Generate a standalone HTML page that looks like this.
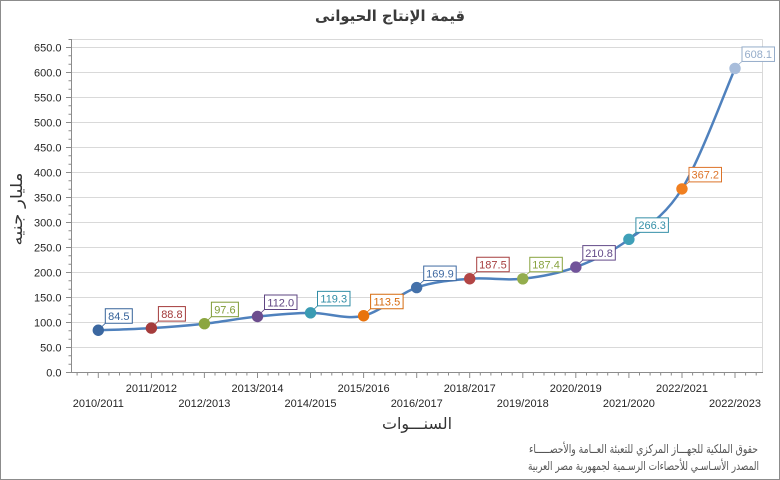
<!DOCTYPE html>
<html><head><meta charset="utf-8"><style>
html,body{margin:0;padding:0;background:#fff;}
svg{display:block;}
.t{font-family:"Liberation Sans","DejaVu Sans",sans-serif;font-size:11px;fill:#262626;}
.ar{font-family:"DejaVu Sans","Liberation Sans",sans-serif;}
</style></head><body>
<svg width="780" height="480" viewBox="0 0 780 480" xmlns="http://www.w3.org/2000/svg">
<rect x="0" y="0" width="780" height="480" fill="#fff"/>
<rect x="0.5" y="0.5" width="779" height="479" fill="none" stroke="#8c8c8c" stroke-width="1"/>

<!-- title -->
<text class="ar" x="390" y="21" text-anchor="middle" font-size="15" font-weight="bold" fill="#3a3a3a" textLength="150" lengthAdjust="spacingAndGlyphs">قيمة الإنتاج الحيوانى</text>

<!-- gridlines -->
<g stroke="#d9d9d9" stroke-width="1">
<line x1="71.5" y1="347.5" x2="762" y2="347.5"/>
<line x1="71.5" y1="322.5" x2="762" y2="322.5"/>
<line x1="71.5" y1="297.5" x2="762" y2="297.5"/>
<line x1="71.5" y1="272.5" x2="762" y2="272.5"/>
<line x1="71.5" y1="247.5" x2="762" y2="247.5"/>
<line x1="71.5" y1="222.5" x2="762" y2="222.5"/>
<line x1="71.5" y1="197.5" x2="762" y2="197.5"/>
<line x1="71.5" y1="172.5" x2="762" y2="172.5"/>
<line x1="71.5" y1="147.5" x2="762" y2="147.5"/>
<line x1="71.5" y1="122.5" x2="762" y2="122.5"/>
<line x1="71.5" y1="97.5" x2="762" y2="97.5"/>
<line x1="71.5" y1="72.5" x2="762" y2="72.5"/>
<line x1="71.5" y1="47.5" x2="762" y2="47.5"/>
<line x1="71.5" y1="39.5" x2="762.5" y2="39.5"/>
<line x1="762.5" y1="39.5" x2="762.5" y2="372.5"/>
</g>

<!-- axes -->
<g stroke="#8c8c8c" stroke-width="1">
<line x1="71.5" y1="39" x2="71.5" y2="373"/>
<line x1="71" y1="372.5" x2="763" y2="372.5"/>
<line x1="66" y1="372.5" x2="71.5" y2="372.5"/>
<line x1="66" y1="347.5" x2="71.5" y2="347.5"/>
<line x1="66" y1="322.5" x2="71.5" y2="322.5"/>
<line x1="66" y1="297.5" x2="71.5" y2="297.5"/>
<line x1="66" y1="272.5" x2="71.5" y2="272.5"/>
<line x1="66" y1="247.5" x2="71.5" y2="247.5"/>
<line x1="66" y1="222.5" x2="71.5" y2="222.5"/>
<line x1="66" y1="197.5" x2="71.5" y2="197.5"/>
<line x1="66" y1="172.5" x2="71.5" y2="172.5"/>
<line x1="66" y1="147.5" x2="71.5" y2="147.5"/>
<line x1="66" y1="122.5" x2="71.5" y2="122.5"/>
<line x1="66" y1="97.5" x2="71.5" y2="97.5"/>
<line x1="66" y1="72.5" x2="71.5" y2="72.5"/>
<line x1="66" y1="47.5" x2="71.5" y2="47.5"/>
</g>
<path stroke="#8c8c8c" stroke-width="1" fill="none" d="
M68.5 364.2H71.5 M68.5 355.8H71.5 M68.5 339.2H71.5 M68.5 330.8H71.5
M68.5 314.2H71.5 M68.5 305.8H71.5 M68.5 289.2H71.5 M68.5 280.8H71.5
M68.5 264.2H71.5 M68.5 255.8H71.5 M68.5 239.2H71.5 M68.5 230.8H71.5
M68.5 214.2H71.5 M68.5 205.8H71.5 M68.5 189.2H71.5 M68.5 180.8H71.5
M68.5 164.2H71.5 M68.5 155.8H71.5 M68.5 139.2H71.5 M68.5 130.8H71.5
M68.5 114.2H71.5 M68.5 105.8H71.5 M68.5 89.2H71.5 M68.5 80.8H71.5
M68.5 64.2H71.5 M68.5 55.8H71.5 M68.5 39.5H71.5"/>

<path stroke="#8c8c8c" stroke-width="1" fill="none" d="
M98.3 372.5V378 M151.4 372.5V378 M204.4 372.5V378 M257.5 372.5V378
M310.5 372.5V378 M363.6 372.5V378 M416.7 372.5V378 M469.7 372.5V378
M522.8 372.5V378 M575.8 372.5V378 M628.9 372.5V378 M682 372.5V378 M735 372.5V378"/>
<path stroke="#8c8c8c" stroke-width="1" fill="none" d="
M77.1 372.5V375.5 M87.7 372.5V375.5
M108.9 372.5V375.5 M119.5 372.5V375.5 M130.1 372.5V375.5 M140.7 372.5V375.5
M162 372.5V375.5 M172.6 372.5V375.5 M183.2 372.5V375.5 M193.8 372.5V375.5
M215 372.5V375.5 M225.6 372.5V375.5 M236.3 372.5V375.5 M246.9 372.5V375.5
M268.1 372.5V375.5 M278.7 372.5V375.5 M289.3 372.5V375.5 M299.9 372.5V375.5
M321.2 372.5V375.5 M331.8 372.5V375.5 M342.4 372.5V375.5 M353 372.5V375.5
M374.2 372.5V375.5 M384.8 372.5V375.5 M395.4 372.5V375.5 M406 372.5V375.5
M427.3 372.5V375.5 M437.9 372.5V375.5 M448.5 372.5V375.5 M459.1 372.5V375.5
M480.3 372.5V375.5 M490.9 372.5V375.5 M501.5 372.5V375.5 M512.2 372.5V375.5
M533.4 372.5V375.5 M544 372.5V375.5 M554.6 372.5V375.5 M565.2 372.5V375.5
M586.5 372.5V375.5 M597.1 372.5V375.5 M607.7 372.5V375.5 M618.3 372.5V375.5
M639.5 372.5V375.5 M650.1 372.5V375.5 M660.7 372.5V375.5 M671.3 372.5V375.5
M692.6 372.5V375.5 M703.2 372.5V375.5 M713.8 372.5V375.5 M724.4 372.5V375.5
M745.6 372.5V375.5 M756.2 372.5V375.5"/>

<g class="t" text-anchor="end">
<text x="61.5" y="376.5">0.0</text>
<text x="61.5" y="351.5">50.0</text>
<text x="61.5" y="326.5">100.0</text>
<text x="61.5" y="301.5">150.0</text>
<text x="61.5" y="276.5">200.0</text>
<text x="61.5" y="251.5">250.0</text>
<text x="61.5" y="226.5">300.0</text>
<text x="61.5" y="201.5">350.0</text>
<text x="61.5" y="176.5">400.0</text>
<text x="61.5" y="151.5">450.0</text>
<text x="61.5" y="126.5">500.0</text>
<text x="61.5" y="101.5">550.0</text>
<text x="61.5" y="76.5">600.0</text>
<text x="61.5" y="51.5">650.0</text>
</g>

<g class="t" text-anchor="middle">
<text x="98.3" y="407">2010/2011</text>
<text x="151.4" y="392">2011/2012</text>
<text x="204.4" y="407">2012/2013</text>
<text x="257.5" y="392">2013/2014</text>
<text x="310.5" y="407">2014/2015</text>
<text x="363.6" y="392">2015/2016</text>
<text x="416.7" y="407">2016/2017</text>
<text x="469.7" y="392">2018/2017</text>
<text x="522.8" y="407">2019/2018</text>
<text x="575.8" y="392">2020/2019</text>
<text x="628.9" y="407">2021/2020</text>
<text x="682" y="392">2022/2021</text>
<text x="735" y="407">2022/2023</text>
</g>

<text class="ar" x="417" y="429" text-anchor="middle" font-size="16" fill="#333" textLength="70" lengthAdjust="spacingAndGlyphs">السنـــوات</text>
<text class="ar" x="0" y="0" transform="translate(22,209) rotate(-90)" text-anchor="middle" font-size="16" fill="#333" textLength="73" lengthAdjust="spacingAndGlyphs">مليار جنيه</text>

<text class="ar" x="643.5" y="453" text-anchor="middle" font-size="12" fill="#555" textLength="229" lengthAdjust="spacingAndGlyphs">حقوق الملكية للجهـــاز المركزي للتعبئة العــامة والأحصـــــاء</text>
<text class="ar" x="643.5" y="470" text-anchor="middle" font-size="12" fill="#555" textLength="231" lengthAdjust="spacingAndGlyphs">المصدر الأسـاسـي للأحصاءات الرسـمية لجمهورية مصر العربية</text>

<path fill="none" stroke="#4f81bd" stroke-width="2.5" stroke-linejoin="round" stroke-linecap="round" d="
M98.30 330.25
C107.14 329.89 133.67 329.19 151.36 328.10
C169.05 327.01 186.73 325.63 204.42 323.70
C222.11 321.77 239.79 318.31 257.48 316.50
C275.17 314.69 292.85 312.98 310.54 312.85
C328.23 312.73 345.91 319.97 363.60 315.75
C381.29 311.53 398.97 293.72 416.66 287.55
C434.35 281.38 452.03 280.21 469.72 278.75
C487.41 277.29 505.09 280.74 522.78 278.80
C540.47 276.86 558.15 273.68 575.84 267.10
C593.53 260.53 611.21 252.38 628.90 239.35
C646.59 226.32 664.27 217.38 681.96 188.90
C699.65 160.42 726.18 88.53 735.02 68.45"/>

<g stroke-width="0.8">
<line x1="101" y1="327.5" x2="105.3" y2="323.3" stroke="#36639a"/>
<line x1="154" y1="325.4" x2="158.4" y2="321.1" stroke="#a33a3a"/>
<line x1="207" y1="321" x2="211.4" y2="316.7" stroke="#7f9b36"/>
<line x1="260" y1="313.8" x2="264.5" y2="309.5" stroke="#5e4482"/>
<line x1="313" y1="310.1" x2="317.5" y2="305.9" stroke="#2f8ca5"/>
<line x1="366" y1="313" x2="370.6" y2="308.8" stroke="#d66a0d"/>
<line x1="419" y1="284.8" x2="423.7" y2="280.6" stroke="#3f6aa2"/>
<line x1="472" y1="276" x2="476.7" y2="271.8" stroke="#a63e3e"/>
<line x1="525" y1="276" x2="529.8" y2="271.8" stroke="#88a33f"/>
<line x1="578" y1="264.4" x2="582.8" y2="260.1" stroke="#634a89"/>
<line x1="631" y1="236.6" x2="635.9" y2="232.4" stroke="#3590a8"/>
<line x1="684" y1="186.2" x2="689" y2="181.9" stroke="#dc7328"/>
<line x1="737" y1="65.7" x2="742" y2="61.5" stroke="#95acc9"/>
</g>

<g>
<circle cx="98.30" cy="330.25" r="5.7" fill="#3b67a0"/>
<circle cx="151.36" cy="328.10" r="5.7" fill="#a53c3c"/>
<circle cx="204.42" cy="323.70" r="5.7" fill="#8ca640"/>
<circle cx="257.48" cy="316.50" r="5.7" fill="#6c4d8e"/>
<circle cx="310.54" cy="312.85" r="5.7" fill="#3a9bb3"/>
<circle cx="363.60" cy="315.75" r="5.7" fill="#e8730d"/>
<circle cx="416.66" cy="287.55" r="5.7" fill="#4471aa"/>
<circle cx="469.72" cy="278.75" r="5.7" fill="#b24545"/>
<circle cx="522.78" cy="278.80" r="5.7" fill="#93ad4d"/>
<circle cx="575.84" cy="267.10" r="5.7" fill="#71539a"/>
<circle cx="628.90" cy="239.35" r="5.7" fill="#3fa0b8"/>
<circle cx="681.96" cy="188.90" r="5.7" fill="#f07f20"/>
<circle cx="735.02" cy="68.45" r="5.7" fill="#a8bddb"/>
</g>

<g font-family="Liberation Sans, sans-serif" font-size="11" text-anchor="middle">
<rect x="105.3" y="308.75" width="27" height="14.5" fill="#fff" stroke="#36639a"/>
<text x="118.8" y="320" fill="#36639a">84.5</text>
<rect x="158.4" y="306.6" width="27" height="14.5" fill="#fff" stroke="#a33a3a"/>
<text x="171.9" y="317.85" fill="#a33a3a">88.8</text>
<rect x="211.4" y="302.2" width="27" height="14.5" fill="#fff" stroke="#7f9b36"/>
<text x="224.9" y="313.45" fill="#7f9b36">97.6</text>
<rect x="264.5" y="295" width="32.5" height="14.5" fill="#fff" stroke="#5e4482"/>
<text x="280.75" y="306.25" fill="#5e4482">112.0</text>
<rect x="317.5" y="291.35" width="32.5" height="14.5" fill="#fff" stroke="#2f8ca5"/>
<text x="333.75" y="302.6" fill="#2f8ca5">119.3</text>
<rect x="370.6" y="294.25" width="32.5" height="14.5" fill="#fff" stroke="#d66a0d"/>
<text x="386.85" y="305.5" fill="#d66a0d">113.5</text>
<rect x="423.7" y="266.05" width="32.5" height="14.5" fill="#fff" stroke="#3f6aa2"/>
<text x="439.95" y="277.3" fill="#3f6aa2">169.9</text>
<rect x="476.7" y="257.25" width="32.5" height="14.5" fill="#fff" stroke="#a63e3e"/>
<text x="492.95" y="268.5" fill="#a63e3e">187.5</text>
<rect x="529.8" y="257.3" width="32.5" height="14.5" fill="#fff" stroke="#88a33f"/>
<text x="546.05" y="268.55" fill="#88a33f">187.4</text>
<rect x="582.8" y="245.6" width="32.5" height="14.5" fill="#fff" stroke="#634a89"/>
<text x="599.05" y="256.85" fill="#634a89">210.8</text>
<rect x="635.9" y="217.85" width="32.5" height="14.5" fill="#fff" stroke="#3590a8"/>
<text x="652.15" y="229.1" fill="#3590a8">266.3</text>
<rect x="689" y="167.4" width="32.5" height="14.5" fill="#fff" stroke="#dc7328"/>
<text x="705.25" y="178.65" fill="#dc7328">367.2</text>
<rect x="742" y="46.95" width="32.5" height="14.5" fill="#fff" stroke="#95acc9"/>
<text x="758.25" y="58.2" fill="#95acc9">608.1</text>
</g>
</svg>
</body></html>
